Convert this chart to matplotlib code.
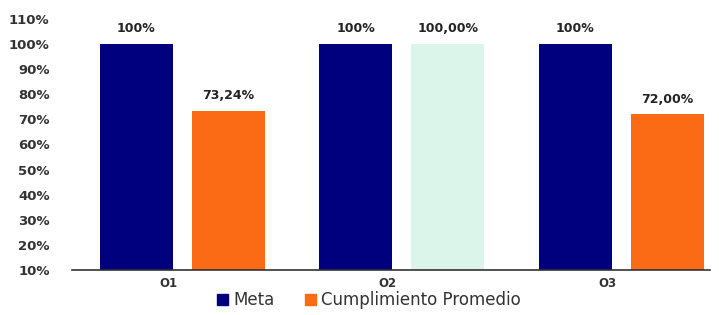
import numpy as np
import matplotlib.pyplot as plt
from matplotlib.patches import Patch

# data
categories = ['O1', 'O2', 'O3']
meta = [100, 100, 100]
cumplimiento = [73.24, 100.00, 72.00]
meta_labels = ['100%', '100%', '100%']
cump_labels = ['73,24%', '100,00%', '72,00%']
yticks = [10, 20, 30, 40, 50, 60, 70, 80, 90, 100, 110]

navy = '#00007e'
orange = '#fb6a14'
mint = '#dcf5ea'
cump_colors = [orange, mint, orange]

fig = plt.figure(figsize=(7.19, 3.15), dpi=100)
ax = fig.add_axes([0.1, 0.143, 0.887, 0.797])

x = np.arange(len(categories))
w = 0.333
b1 = ax.bar(x - 0.195, meta, w, color=navy)
b2 = ax.bar(x + 0.224, cumplimiento, w, color=cump_colors)

for rect, lab in zip(b1, meta_labels):
    ax.text(rect.get_x() + rect.get_width() / 2, rect.get_height() + 3.5, lab,
            ha='center', va='bottom', fontsize=9, fontweight='bold', color='#222222')
for rect, lab in zip(b2, cump_labels):
    ax.text(rect.get_x() + rect.get_width() / 2, rect.get_height() + 3.5, lab,
            ha='center', va='bottom', fontsize=9, fontweight='bold', color='#222222')

ax.set_xlim(-0.489, 2.417)
ax.set_ylim(10, 110)
ax.set_yticks(yticks)
ax.set_yticklabels([f'{t}%' for t in yticks], fontsize=9.5, fontweight='bold', color='#333333')
ax.set_xticks(x - 0.05)
ax.set_xticklabels(categories, fontsize=8.5, fontweight='bold', color='#333333')
ax.tick_params(axis='x', length=0, pad=5)
ax.tick_params(axis='y', length=0, pad=16)
for s in ['top', 'right', 'left']:
    ax.spines[s].set_visible(False)
ax.spines['bottom'].set_color('#333333')
ax.spines['bottom'].set_linewidth(1.2)

handles = [Patch(color=navy, label='Meta'), Patch(color=orange, label='Cumplimiento Promedio')]
fig.legend(handles=handles, loc='lower center', bbox_to_anchor=(0.513, -0.03), ncol=2,
           frameon=False, fontsize=12, handlelength=0.7, handleheight=0.7,
           handletextpad=0.3, columnspacing=1.8, labelcolor='#333333')

fig.savefig('out.png', dpi=100)
